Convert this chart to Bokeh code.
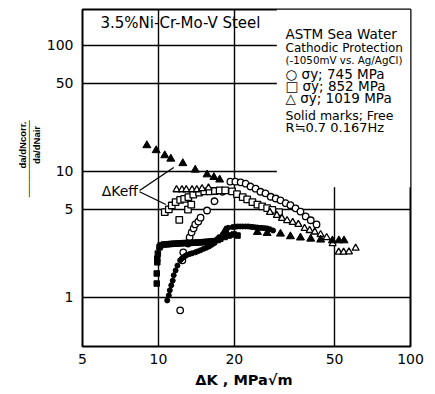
from bokeh.plotting import figure
from bokeh.models import Range1d, FixedTicker, Label, BoxAnnotation, CustomJSTickFormatter, LinearAxis
from bokeh.embed import file_html
from bokeh.resources import INLINE

# ---------------- data ----------------
x_ticks = [5, 10, 20, 50, 100]
y_ticks = [1, 5, 10, 50, 100]

# open circles: sigma_y 745 MPa, cathodic protection
c745_dk = [12.2, 12.45, 12.55, 13.15, 13.3, 13.55, 13.8, 14.0, 14.4, 14.7, 15.6, 16.7, 18.0,
           19.3, 20.2, 21.2, 22.2, 23.2, 24.3, 25.4, 26.6, 27.9, 29.2, 30.5, 32.0, 33.4,
           35.0, 36.6, 38.4, 40.2, 42.4]
c745_r = [0.79, 1.97, 2.28, 2.68, 3.0, 3.28, 3.53, 3.8, 4.0, 4.3, 4.9, 5.8, 6.9,
          8.3, 8.3, 8.2, 8.0, 7.6, 7.3, 6.9, 6.7, 6.3, 6.1, 5.9, 5.6, 5.4,
          5.1, 4.8, 4.4, 4.1, 3.8]

# open squares: sigma_y 852 MPa, cathodic protection
s852_dk = [10.6, 11.0, 11.3, 11.7, 12.2, 12.65, 13.15, 13.75, 14.5, 15.2, 15.95, 16.75,
           17.5, 18.4, 19.6, 20.5, 21.6, 22.5, 23.6, 24.7, 25.8, 27.0, 28.3, 30.1,
           12.1, 13.1, 13.5]
s852_r = [4.75, 5.0, 5.37, 5.7, 5.95, 6.05, 6.25, 6.55, 6.8, 6.95, 6.95, 7.0,
          7.07, 7.07, 6.95, 6.6, 6.25, 6.0, 5.7, 5.46, 5.28, 5.12, 4.96, 4.76,
          4.13, 4.98, 5.45]

# open triangles: sigma_y 1019 MPa, cathodic protection
t1019_dk = [11.8, 12.4, 12.9, 13.6, 14.2, 14.9, 15.8,
            27.7, 29.5, 30.9, 32.4, 34.1, 35.9, 38.0, 39.8, 41.7, 44.0, 46.5, 49.1,
            51.9, 54.3, 57.0, 60.6]
t1019_r = [7.16, 7.16, 7.16, 7.16, 7.16, 7.3, 7.4,
           4.73, 4.48, 4.24, 4.08, 3.94, 3.80, 3.53, 3.40, 3.31, 3.16, 2.99, 2.68,
           2.29, 2.29, 2.30, 2.46]

# solid circles: sigma_y 745 MPa, free corrosion
f745_dk = [10.84, 11.0, 11.1, 11.25, 11.4, 11.5, 11.7, 11.9, 12.2, 12.4, 12.6, 12.8, 13.0,
           13.3, 13.6, 14.0, 14.3, 14.7, 15.1, 15.5, 15.9, 16.3, 16.7, 17.1, 17.4, 18.0,
           18.5, 18.9, 19.7, 20.2, 20.6, 21.1, 21.6, 22.2, 22.7, 23.2, 23.7, 24.2, 24.7,
           25.3, 25.8, 26.4, 27.0, 27.7, 28.5]
f745_r = [0.947, 1.04, 1.14, 1.25, 1.36, 1.50, 1.64, 1.79, 1.97, 2.04, 2.09, 2.14, 2.18,
          2.21, 2.24, 2.28, 2.32, 2.37, 2.43, 2.48, 2.54, 2.62, 2.70, 2.85, 3.01, 3.16,
          3.35, 3.57, 3.62, 3.64, 3.66, 3.66, 3.66, 3.66, 3.66, 3.64, 3.62, 3.60, 3.59,
          3.57, 3.56, 3.55, 3.53, 3.48, 3.40]

# solid squares: sigma_y 852 MPa, free corrosion
f852_dk = [9.85, 9.85, 9.9, 9.9, 9.95, 10.1, 10.2, 10.5, 10.75, 11.0, 11.25, 11.5, 11.75,
           12.0, 12.3, 12.6, 12.85, 13.1, 13.45, 13.8, 14.1, 14.4, 14.75, 15.1, 15.45,
           15.8, 16.2, 16.6, 17.2, 17.6, 18.3, 19.0, 19.9, 20.6]
f852_r = [1.29, 1.55, 1.9, 2.03, 2.23, 2.5, 2.59, 2.63, 2.64, 2.65, 2.66, 2.67, 2.67,
          2.68, 2.69, 2.70, 2.70, 2.71, 2.71, 2.72, 2.72, 2.73, 2.74, 2.75, 2.76,
          2.77, 2.78, 2.80, 2.86, 2.92, 3.02, 3.10, 3.16, 3.10]

# solid triangles: sigma_y 1019 MPa, free corrosion
f1019_dk = [9.0, 9.8, 10.6, 11.2, 12.5, 14.0, 15.6, 16.6, 17.5,
            18.4, 24.7, 27.0, 30.5, 33.4, 36.6, 40.2, 44.0, 49.0, 52.0, 54.5]
f1019_r = [16.1, 14.7, 13.4, 12.6, 11.6, 10.3, 9.45, 9.0, 8.6,
           3.40, 3.30, 3.24, 3.20, 3.05, 2.98, 2.92, 2.87, 2.83, 2.83, 2.83]

title_text = "3.5%Ni-Cr-Mo-V Steel"
legend_lines = ["ASTM Sea Water", "Cathodic Protection", "(-1050mV vs. Ag/AgCl)",
                "○ σy; 745 MPa", "□ σy; 852 MPa", "△ σy; 1019 MPa",
                "Solid marks; Free", "R≒0.7  0.167Hz"]
x_title = "ΔK ,  MPa√m"
y_num = "da/dNcorr."
y_den = "da/dNair"
keff_text = "ΔKeff"

FONT = "DejaVu Sans"
NARROW = "Liberation Sans"
NB = "\u00a0"

# ---------------- figure ----------------
p = figure(width=435, height=394, x_axis_type="log", y_axis_type="log",
           x_range=Range1d(5, 100), y_range=Range1d(0.408, 193),
           output_backend="svg", toolbar_location=None,
           min_border_left=82, min_border_right=25, min_border_top=9, min_border_bottom=48)
p.background_fill_color = "white"
p.border_fill_color = "white"
p.outline_line_color = "black"
p.outline_line_width = 2

fmt = CustomJSTickFormatter(code="return String(tick);")
xa = p.xaxis[0]
ya = p.yaxis[0]
for ax, ticks in ((xa, x_ticks), (ya, y_ticks)):
    ax.ticker = FixedTicker(ticks=ticks, minor_ticks=[])
    ax.formatter = fmt
    ax.major_tick_in = 0
    ax.major_tick_out = 0
    ax.minor_tick_in = 0
    ax.minor_tick_out = 0
    ax.axis_line_color = None
    ax.major_label_text_font = FONT
    ax.major_label_text_font_size = "14px"
    ax.major_label_text_color = "black"
xa.major_label_standoff = 7
ya.major_label_standoff = 9
xa.axis_label = x_title
xa.axis_label_standoff = 5
xa.axis_label_text_font = FONT
xa.axis_label_text_font_size = "14.5px"
xa.axis_label_text_font_style = "bold"
xa.axis_label_text_color = "black"

# y title as a stacked fraction built from extra left axes (text only, no rule)
p.extra_y_ranges = {"frac": Range1d(0, 1)}


def label_axis(text, standoff, font, size, style):
    a = LinearAxis(y_range_name="frac", ticker=FixedTicker(ticks=[]),
                   major_tick_out=0, major_tick_in=0, minor_tick_out=0, minor_tick_in=0,
                   major_label_standoff=0)
    a.axis_line_color = None
    a.axis_label = text
    a.axis_label_standoff = standoff
    a.axis_label_text_font = font
    a.axis_label_text_font_size = size
    a.axis_label_text_font_style = style
    a.axis_label_text_color = "black"
    return a


p.add_layout(label_axis(NB * 25 + y_den, 2, NARROW, "9.5px", "bold"), "left")
p.add_layout(label_axis(NB * 8 + "─" * 16, -6, "DejaVu Sans Mono", "8px", "bold"), "left")
p.add_layout(label_axis(NB * 25 + y_num, -6, NARROW, "9.5px", "bold"), "left")

p.xgrid.ticker = FixedTicker(ticks=x_ticks)
p.ygrid.ticker = FixedTicker(ticks=y_ticks)
for g in (p.xgrid[0], p.ygrid[0]):
    g.grid_line_color = "black"
    g.grid_line_width = 1.4

# white area behind the legend text
p.add_layout(BoxAnnotation(left=29.5, right=100, bottom=7.5, top=193,
                           fill_color="white", fill_alpha=1.0, line_color=None,
                           level="underlay"))

# data
p.scatter(c745_dk, c745_r, marker="circle", size=6.5, fill_color="white",
          line_color="black", line_width=1.3)
p.scatter(s852_dk, s852_r, marker="square", size=6.5, fill_color="white",
          line_color="black", line_width=1.3)
p.scatter(t1019_dk, t1019_r, marker="triangle", size=7, fill_color="white",
          line_color="black", line_width=1.3)
p.scatter(f745_dk, f745_r, marker="circle", size=5, fill_color="black",
          line_color="black")
p.scatter(f852_dk, f852_r, marker="square", size=5.5, fill_color="black",
          line_color="black")
p.scatter(f1019_dk, f1019_r, marker="triangle", size=8, fill_color="black",
          line_color="black")

# Delta K eff pointer lines
keff_x0 = [8.42, 8.42]
keff_y0 = [7.07, 6.9]
keff_x1 = [11.5, 10.7]
keff_y1 = [10.76, 5.47]
p.segment(keff_x0, keff_y0, keff_x1, keff_y1, line_color="black", line_width=1.3)
p.add_layout(Label(x=8.3, y=6.95, text=keff_text, text_align="right", text_baseline="middle",
                   text_font=FONT, text_font_size="14px", text_color="black"))

# title inside plot
p.add_layout(Label(x=18, y=324, x_units="screen", y_units="screen", text=title_text,
                   text_align="left", text_baseline="middle",
                   text_font=FONT, text_font_size="15px", text_color="black"))

# legend block
leg_y = [313, 299, 287, 273, 261, 249, 231, 219]
leg_size = ["13.5px", "12px", "10.3px", "13.5px", "13.5px", "13.5px", "12.5px", "13px"]
for t, yy, fs in zip(legend_lines, leg_y, leg_size):
    p.add_layout(Label(x=203, y=yy, x_units="screen", y_units="screen", text=t,
                       text_align="left", text_baseline="middle",
                       text_font=FONT, text_font_size=fs, text_color="black"))

open("out.html", "w").write(file_html(p, INLINE))
